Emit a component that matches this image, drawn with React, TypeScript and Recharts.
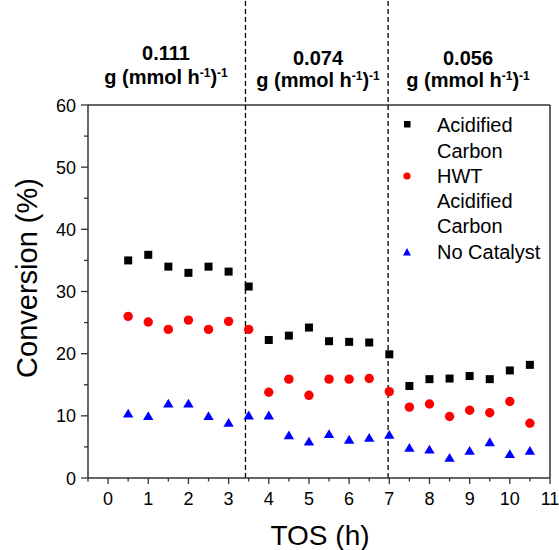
import React from 'react';
import { ScatterChart, Scatter, XAxis, YAxis, ReferenceLine, Customized } from 'recharts';

const tos = [0.5, 1, 1.5, 2, 2.5, 3, 3.5, 4, 4.5, 5, 5.5, 6, 6.5, 7, 7.5, 8, 8.5, 9, 9.5, 10, 10.5];
const acidifiedCarbon = [35, 35.9, 34, 33, 34, 33.2, 30.8, 22.2, 22.9, 24.2, 22, 21.9, 21.8, 19.9, 14.8, 15.9, 16, 16.4, 15.9, 17.3, 18.2];
const hwtAcidifiedCarbon = [26, 25.1, 23.9, 25.4, 23.9, 25.2, 23.9, 13.8, 15.9, 13.3, 15.9, 15.9, 16, 13.9, 11.4, 11.9, 9.9, 10.9, 10.5, 12.3, 8.8];
const noCatalyst = [10.4, 10, 12, 12, 10, 8.9, 10.1, 10.1, 6.9, 5.9, 7.1, 6.2, 6.5, 7, 4.9, 4.6, 3.3, 4.4, 5.8, 3.9, 4.4];

const xTicks = [-0.5, 0, 0.5, 1, 1.5, 2, 2.5, 3, 3.5, 4, 4.5, 5, 5.5, 6, 6.5, 7, 7.5, 8, 8.5, 9, 9.5, 10, 10.5, 11];
const yTicks = [0, 5, 10, 15, 20, 25, 30, 35, 40, 45, 50, 55, 60];
const dividers = [3.42, 6.97];
const loadings = ['0.111', '0.074', '0.056'];
const legendLines = ['Acidified', 'Carbon', 'HWT', 'Acidified', 'Carbon', 'No Catalyst'];

const FONT = 'Liberation Sans, Arial, Helvetica, sans-serif';
const AXIS = '#333333';

const toPoints = (ys: number[]) => tos.map((t, i) => ({ x: t, y: ys[i] }));
const dataA = toPoints(acidifiedCarbon);
const dataH = toPoints(hwtAcidifiedCarbon);
const dataN = toPoints(noCatalyst);

const XTick = (props: any) => {
  const { x, y, payload } = props;
  const v = payload.value;
  const major = Number.isInteger(v);
  return (
    <g>
      <line x1={x} x2={x} y1={y} y2={y + (major ? 6 : 3.5)} stroke={AXIS} strokeWidth={1.3} />
      {major && (
        <text x={x} y={y + 27} textAnchor="middle" fontSize={18} fontFamily={FONT} fill="#000">
          {v}
        </text>
      )}
    </g>
  );
};

const YTick = (props: any) => {
  const { x, y, payload } = props;
  const v = payload.value;
  const major = v % 10 === 0;
  return (
    <g>
      <line x1={x} x2={x - (major ? 7 : 4)} y1={y} y2={y} stroke={AXIS} strokeWidth={1.3} />
      {major && (
        <text x={x - 12} y={y + 6.5} textAnchor="end" fontSize={18} fontFamily={FONT} fill="#000">
          {v}
        </text>
      )}
    </g>
  );
};

const Square = (props: any) => {
  const { cx, cy } = props;
  return <rect x={cx - 4} y={cy - 4} width={8} height={8} fill="#000000" />;
};
const Dot = (props: any) => {
  const { cx, cy } = props;
  return <circle cx={cx} cy={cy} r={4.7} fill="#ff0000" />;
};
const Tri = (props: any) => {
  const { cx, cy } = props;
  return <polygon points={`${cx},${cy - 4.6} ${cx - 5.2},${cy + 4.2} ${cx + 5.2},${cy + 4.2}`} fill="#0000ff" />;
};

const Overlay = () => {
  const groupX = [166, 318, 468];
  const line1 = [59.5, 64.5, 64.5];
  const line2 = [84, 87, 87];
  const legendBase = [132, 157.5, 183, 208, 233, 259];
  return (
    <g>
      <text
        transform="translate(37,278) rotate(-90)"
        textAnchor="middle"
        fontSize={29}
        fontFamily={FONT}
        fill="#000"
      >
        Conversion (%)
      </text>
      <text x={320} y={545} textAnchor="middle" fontSize={28} fontFamily={FONT} fill="#000">
        TOS (h)
      </text>
      {loadings.map((l, i) => (
        <g key={i}>
          <text x={groupX[i]} y={line1[i]} textAnchor="middle" fontSize={20} fontWeight="bold" fontFamily={FONT} fill="#000">
            {l}
          </text>
          <text x={groupX[i]} y={line2[i]} textAnchor="middle" fontSize={20} fontWeight="bold" fontFamily={FONT} fill="#000">
            <tspan>g (mmol h</tspan>
            <tspan dy={-7} fontSize={12}>-1</tspan>
            <tspan dy={7}>)</tspan>
            <tspan dy={-7} fontSize={12}>-1</tspan>
          </text>
        </g>
      ))}
      <rect x={404} y={121} width={6.5} height={6.5} fill="#000000" />
      <circle cx={407} cy={176} r={3.6} fill="#ff0000" />
      <polygon points="407,248 403,255.5 411,255.5" fill="#0000ff" />
      {legendLines.map((t, i) => (
        <text key={i} x={437} y={legendBase[i]} fontSize={20} fontFamily={FONT} fill="#000">
          {t}
        </text>
      ))}
    </g>
  );
};

export default function App() {
  return (
    <div style={{ position: 'absolute', left: 0, top: 0, background: '#fff' }}>
      <ScatterChart width={559} height={550} margin={{ top: 105, right: 9, bottom: 32, left: 28 }}>
        <XAxis
          type="number"
          dataKey="x"
          domain={[-0.5, 11]}
          ticks={xTicks}
          interval={0}
          tickSize={0}
          tickMargin={0}
          tickLine={false}
          tick={<XTick />}
          height={40}
          axisLine={{ stroke: AXIS, strokeWidth: 1.5 }}
          allowDataOverflow
        />
        <YAxis
          type="number"
          dataKey="y"
          domain={[0, 60]}
          ticks={yTicks}
          interval={0}
          tickSize={0}
          tickMargin={0}
          tickLine={false}
          tick={<YTick />}
          width={60}
          axisLine={{ stroke: AXIS, strokeWidth: 1.5 }}
          allowDataOverflow
        />
        <ReferenceLine y={60} stroke={AXIS} strokeWidth={1.5} />
        <ReferenceLine x={11} stroke={AXIS} strokeWidth={1.5} />
        {dividers.map((d) => (
          <ReferenceLine
            key={d}
            segment={[{ x: d, y: 0 }, { x: d, y: 77 }]}
            ifOverflow="visible"
            stroke="#000"
            strokeWidth={1.3}
            strokeDasharray="5 3"
          />
        ))}
        <Scatter data={dataA} shape={<Square />} isAnimationActive={false} />
        <Scatter data={dataH} shape={<Dot />} isAnimationActive={false} />
        <Scatter data={dataN} shape={<Tri />} isAnimationActive={false} />
        <Customized component={<Overlay />} />
      </ScatterChart>
    </div>
  );
}
